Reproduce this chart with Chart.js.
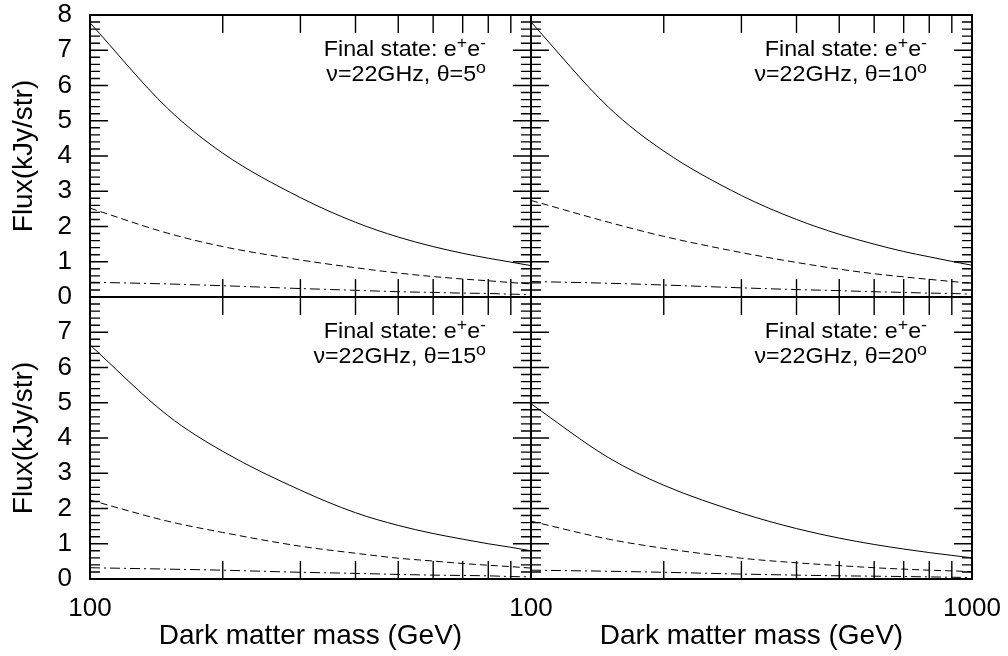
<!DOCTYPE html>
<html><head><meta charset="utf-8">
<script src="https://cdn.jsdelivr.net/npm/chart.js@4.4.1/dist/chart.umd.min.js"></script>
<style>
html,body{margin:0;padding:0;background:#fff;}
#wrap{position:relative;width:1008px;height:656px;background:#fff;}
#wrap canvas{position:absolute;left:0;top:0;}
</style></head><body>
<div id="wrap">
<canvas id="c1" width="1008" height="656"></canvas>
<canvas id="c2" width="1008" height="656"></canvas>
<canvas id="c3" width="1008" height="656"></canvas>
<canvas id="c4" width="1008" height="656"></canvas>
</div>
<script>
// ---- data ----
const masses = [100, 150, 200, 300, 400, 500, 600, 700, 800, 900, 1000];

const solid5   = [7.78, 5.35, 4.08, 2.82, 2.12, 1.70, 1.43, 1.24, 1.10, 0.99, 0.89];
const dashed5  = [2.52, 1.81, 1.43, 1.05, 0.83, 0.68, 0.58, 0.51, 0.46, 0.41, 0.37];
const dotdash5 = [0.42, 0.37, 0.32, 0.24, 0.19, 0.15, 0.13, 0.11, 0.10, 0.08, 0.07];

const solid10   = [7.80, 5.38, 4.14, 2.88, 2.20, 1.78, 1.50, 1.29, 1.14, 1.01, 0.90];
const dashed10  = [2.74, 2.12, 1.72, 1.26, 0.98, 0.79, 0.66, 0.57, 0.50, 0.44, 0.39];
const dotdash10 = [0.44, 0.39, 0.34, 0.26, 0.21, 0.18, 0.15, 0.13, 0.11, 0.10, 0.08];

const solid15   = [6.64, 4.64, 3.62, 2.52, 1.88, 1.52, 1.29, 1.13, 1.00, 0.90, 0.80];
const dashed15  = [2.24, 1.64, 1.32, 0.93, 0.73, 0.59, 0.51, 0.44, 0.39, 0.35, 0.31];
const dotdash15 = [0.32, 0.28, 0.25, 0.19, 0.16, 0.13, 0.11, 0.10, 0.09, 0.07, 0.06];

const solid20   = [4.97, 3.44, 2.66, 1.87, 1.43, 1.16, 0.98, 0.85, 0.75, 0.67, 0.60];
const dashed20  = [1.64, 1.13, 0.87, 0.59, 0.46, 0.38, 0.32, 0.28, 0.25, 0.23, 0.21];
const dotdash20 = [0.25, 0.22, 0.19, 0.14, 0.11, 0.09, 0.08, 0.07, 0.06, 0.05, 0.04];

const xTickValues = [100, 200, 300, 400, 500, 600, 700, 800, 900, 1000];
const yTickLabels = ['0','1','2','3','4','5','6','7','8'];
const xTickLabels = {100: '100', 1000: '1000'};
const yTitle = 'Flux(kJy/str)';
const xTitle = 'Dark matter mass (GeV)';
const line1 = [{t:'Final state: e'},{t:'+',sup:true},{t:'e'},{t:'-',sup:true}];
const angles = ['5','10','15','20'];

// ---- drawing helpers ----
const FONT = '"Liberation Sans", Arial, Helvetica, sans-serif';
function toXY(arr){ return masses.map((m,i)=>({x:m, y:arr[i]})); }

function drawRich(ctx, parts, rightX, baseY, sx){
  const big = '21.5px ' + FONT, small = '16.5px ' + FONT;
  let w = 0;
  parts.forEach(p => { ctx.font = p.sup ? small : big; p.w = ctx.measureText(p.t).width; w += p.w; });
  ctx.save();
  ctx.translate(rightX - w * sx, baseY);
  ctx.scale(sx, 1);
  ctx.fillStyle = '#000';
  ctx.textBaseline = 'alphabetic';
  ctx.textAlign = 'left';
  let cx = 0;
  parts.forEach(p => { ctx.font = p.sup ? small : big; ctx.fillText(p.t, cx, p.sup ? -8.5 : 0); cx += p.w; });
  ctx.restore();
}

const deco = {
  id: 'deco',
  afterDatasetsDraw(chart, args, opts){
    const {ctx, chartArea: a, scales: {x, y}} = chart;
    ctx.save();
    ctx.strokeStyle = '#000';
    ctx.lineWidth = 1.4;
    ctx.beginPath();
    for (let i = 0; i <= 40; i++){
      const py = y.getPixelForValue(i / 5);
      const len = (i % 5 === 0) ? 18 : 10;
      ctx.moveTo(a.left, py); ctx.lineTo(a.left + len, py);
      ctx.moveTo(a.right, py); ctx.lineTo(a.right - len, py);
    }
    x.ticks.forEach(t => {
      if (t.value <= x.min || t.value >= x.max) return;
      const px = x.getPixelForValue(t.value);
      ctx.moveTo(px, a.bottom); ctx.lineTo(px, a.bottom - 18);
      ctx.moveTo(px, a.top); ctx.lineTo(px, a.top + 18);
    });
    ctx.stroke();
    ctx.lineWidth = 2;
    ctx.strokeRect(a.left, a.top, a.right - a.left, a.bottom - a.top);
    const rx = a.right - 45;
    drawRich(ctx, line1.map(p=>({...p})), rx, a.top + 41, 1.08);
    drawRich(ctx, [{t:'\u03BD=22GHz, \u03B8=' + opts.angle},{t:'o',sup:true}], rx, a.top + 66, 1.08);
    ctx.restore();
  }
};

function makeChart(id, c){
  const xScale = {
    type: 'logarithmic', min: 100, max: 1000,
    display: c.showX,
    grid: {display: false, drawTicks: true, tickLength: 14},
    border: {display: false},
    afterBuildTicks: (s) => { s.ticks = xTickValues.map(v => ({value: v})); },
    ticks: {
      display: c.showX,
      autoSkip: false, maxRotation: 0, minRotation: 0, padding: 0,
      color: '#000', font: {family: FONT, size: 26},
      callback: (v) => (c.xLabels.includes(v) ? xTickLabels[v] : '')
    },
    title: {display: c.showX, text: xTitle, color: '#000',
            font: {family: FONT, size: 28}, padding: {top: 0, bottom: 3}},
    afterFit: (s) => { s.paddingLeft = 0; s.paddingRight = 0; if (c.showX) s.height = 77; }
  };
  const yScale = {
    min: 0, max: 8,
    display: c.showY,
    grid: {display: false, drawTicks: true, tickLength: 18},
    border: {display: false},
    ticks: {
      display: c.showY,
      stepSize: 1, padding: 0, color: '#000', font: {family: FONT, size: 26, lineHeight: 1.1},
      callback: (v) => (v <= c.yMaxLabel ? yTickLabels[v] : '')
    },
    title: {display: c.showY, text: yTitle, color: '#000',
            font: {family: FONT, size: 28}, padding: {top: 7, bottom: 0}},
    afterFit: (s) => { s.paddingTop = 0; s.paddingBottom = 0; if (c.showY) s.width = 90; }
  };

  return new Chart(document.getElementById(id), {
    type: 'line',
    data: { datasets: [
      {data: toXY(c.solid)},
      {data: toXY(c.dashed), borderDash: [7, 4]},
      {data: toXY(c.dotdash), borderDash: [10, 4, 2, 4]}
    ]},
    options: {
      responsive: false, animation: false, devicePixelRatio: 1,
      layout: {padding: c.padding},
      elements: {
        point: {radius: 0},
        line: {borderWidth: 1, borderColor: '#000', cubicInterpolationMode: 'monotone', fill: false}
      },
      plugins: {legend: {display: false}, tooltip: {enabled: false}, deco: {angle: c.angle}},
      scales: {x: xScale, y: yScale}
    },
    plugins: [deco]
  });
}

makeChart('c1', {solid: solid5, dashed: dashed5, dotdash: dotdash5, angle: angles[0],
  showX: false, showY: true, yMaxLabel: 8, xLabels: [],
  padding: {left: 0, right: 477, top: 15, bottom: 359}});
makeChart('c2', {solid: solid10, dashed: dashed10, dotdash: dotdash10, angle: angles[1],
  showX: false, showY: false, yMaxLabel: 8, xLabels: [],
  padding: {left: 531, right: 36, top: 15, bottom: 359}});
makeChart('c3', {solid: solid15, dashed: dashed15, dotdash: dotdash15, angle: angles[2],
  showX: true, showY: true, yMaxLabel: 7, xLabels: [100],
  padding: {left: 0, right: 477, top: 297, bottom: 0}});
makeChart('c4', {solid: solid20, dashed: dashed20, dotdash: dotdash20, angle: angles[3],
  showX: true, showY: false, yMaxLabel: 8, xLabels: [100, 1000],
  padding: {left: 531, right: 36, top: 297, bottom: 0}});
</script>
</body></html>
